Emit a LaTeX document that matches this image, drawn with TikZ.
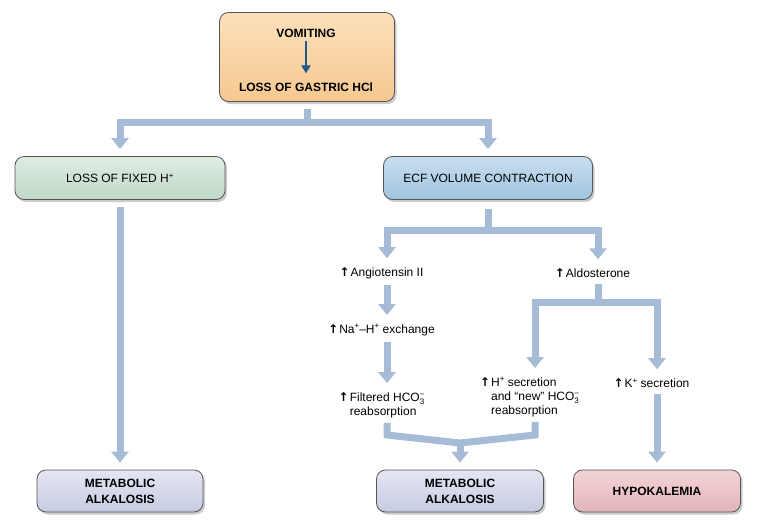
\documentclass[tikz,border=0pt]{standalone}
\usepackage{fontspec}
\setmainfont{Liberation Sans}
\newfontfamily\symfont{DejaVu Sans}
\usetikzlibrary{arrows.meta,shadows}
\definecolor{flowc}{RGB}{166,188,214}
\definecolor{boxline}{RGB}{85,85,85}
\definecolor{orT}{RGB}{252,224,186}
\definecolor{orB}{RGB}{246,200,144}
\definecolor{grT}{RGB}{222,236,226}
\definecolor{grB}{RGB}{192,216,200}
\definecolor{blT}{RGB}{200,222,238}
\definecolor{blB}{RGB}{160,196,224}
\definecolor{lvT}{RGB}{228,230,242}
\definecolor{lvB}{RGB}{198,203,226}
\definecolor{pkT}{RGB}{244,212,214}
\definecolor{pkB}{RGB}{226,180,186}
\definecolor{darkarr}{RGB}{30,90,140}
\newcommand\upar{\llap{{\symfont\bfseries\fontsize{12}{12}\selectfont ↑}\hspace{1pt}}}
\newcommand\hcothree{HCO\rlap{\raisebox{-0.45ex}{\fontsize{8}{8}\selectfont 3}}\raisebox{0.8ex}{\fontsize{8}{8}\selectfont –}}
\newcommand\supp[1]{\raisebox{0.7ex}{\fontsize{8}{8}\selectfont #1}}
\begin{document}
\begin{tikzpicture}[x=1pt,y=-1pt,
  box/.style={draw=boxline, line width=0.8pt, rounded corners=9pt,
    drop shadow={shadow xshift=2pt,shadow yshift=-2.5pt,opacity=0.4},
    inner sep=0pt, align=center, font=\fontsize{12}{16}\selectfont},
  boldbox/.style={box, font=\bfseries\fontsize{12}{16}\selectfont},
  txt/.style={font=\fontsize{12}{14}\selectfont, align=left, inner sep=2pt},
  btxt/.style={font=\bfseries\fontsize{12}{14}\selectfont, inner sep=2pt},
  flowline/.style={draw=flowc, line width=7pt, line join=miter},
  flow/.style={flowline, -{Triangle[width=17pt,length=11pt]}, shorten >=7pt},
  darkarrow/.style={draw=darkarr, line width=2.2pt, -{Triangle[width=9pt,length=8pt]}}
]
\useasboundingbox (0,0) rectangle (765,530);

% boxes
\node[box, top color=orT, bottom color=orB, minimum width=175pt, minimum height=89pt] (top) at (307,57) {};
\node[btxt] (vom) at (306,33) {VOMITING};
\node[btxt] (gas) at (306,87) {LOSS OF GASTRIC HCl};
\draw[darkarrow, shorten <=2pt, shorten >=7pt] (vom) -- (gas);

\node[box, top color=grT, bottom color=grB, minimum width=210pt, minimum height=43pt] (fixed) at (120,178) {LOSS OF FIXED H\textsuperscript{+}};
\node[box, top color=blT, bottom color=blB, minimum width=209pt, minimum height=43pt] (ecf) at (488,178) {ECF VOLUME CONTRACTION};

\node[boldbox, top color=lvT, bottom color=lvB, minimum width=166pt, minimum height=42pt] (meta1) at (120,491) {METABOLIC\\ALKALOSIS};
\node[boldbox, top color=lvT, bottom color=lvB, minimum width=167pt, minimum height=42pt] (meta2) at (460,491) {METABOLIC\\ALKALOSIS};
\node[boldbox, top color=pkT, bottom color=pkB, minimum width=167pt, minimum height=42pt] (hypo) at (657,491) {HYPOKALEMIA};

% text nodes
\node[txt] (ang) at (387,273) {\upar Angiotensin II};
\node[txt] (na) at (387,330) {\upar Na\supp{+}–H\supp{+} exchange};
\node[txt] (filt) at (387,405) {\upar Filtered \hcothree\\reabsorption};
\node[txt] (ald) at (598,273) {\upar Aldosterone};
\node[txt] (hsec) at (535,397) {\upar H\supp{+} secretion\\and ``new'' \hcothree\\reabsorption};
\node[txt] (ksec) at (657,383) {\upar K\supp{+} secretion};

% junction coordinates
\coordinate (j1) at (307,122);
\coordinate (j2) at (488,230);
\coordinate (j3) at (598,302);
\coordinate (ml) at (387,435);
\coordinate (mr) at (535,435);
\coordinate (m) at (460,443);

% connectors
\draw[flow, shorten <=7pt] (top.south) -- (j1) -| (fixed.north);
\draw[flow] (j1) -| (ecf.north);
\draw[flow, shorten <=7pt] (fixed.south) -- (meta1.north);
\draw[flow, shorten <=9pt] (ecf.south) -- (j2) -| (ang.north);
\draw[flow] (j2) -| (ald.north);
\draw[flow, shorten <=4pt] (ang.south) -- (na.north);
\draw[flow, shorten <=4pt] (na.south) -- (filt.north);
\draw[flow, shorten <=4pt] (ald.south) -- (j3) -| (hsec.north);
\draw[flow] (j3) -| (ksec.north);
\draw[flow, shorten <=4pt] (ksec.south) -- (hypo.north);
\draw[flowline, shorten <=3pt, shorten >=3pt] (filt.south) -- (ml) -- (m) -- (mr) -- (hsec.south);
\draw[flow] (m) -- (meta2.north);
\end{tikzpicture}
\end{document}
